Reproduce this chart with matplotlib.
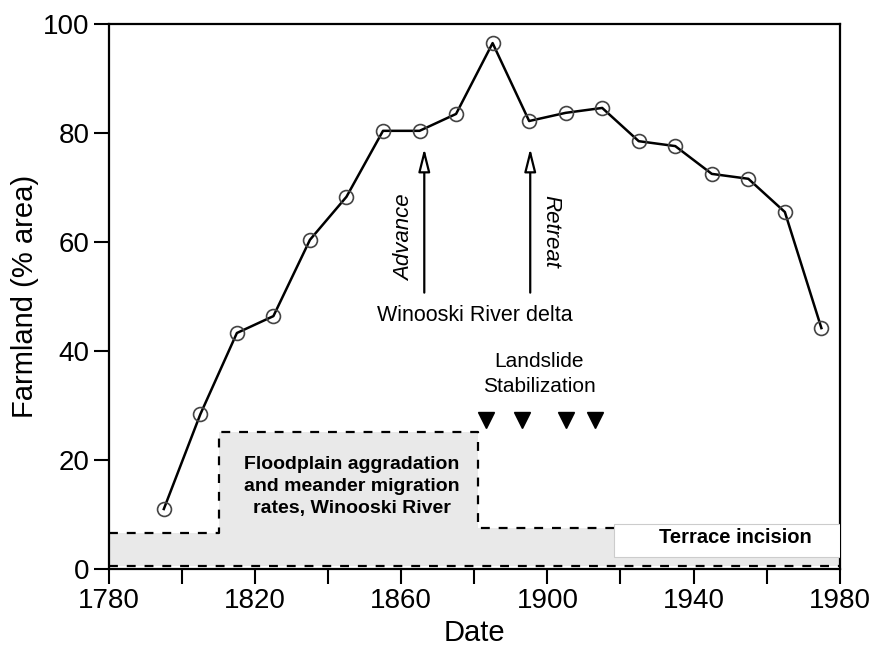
import matplotlib
matplotlib.use("Agg")
import matplotlib.pyplot as plt
import numpy as np

plt.rcParams['font.family'] = ['Liberation Sans', 'DejaVu Sans']

years = [1795, 1805, 1815, 1825, 1835, 1845, 1855, 1865, 1875, 1885,
         1895, 1905, 1915, 1925, 1935, 1945, 1955, 1965, 1975]
farmland = [11.0, 28.4, 43.3, 46.4, 60.4, 68.3, 80.4, 80.4, 83.5, 96.5,
            82.2, 83.7, 84.6, 78.5, 77.6, 72.5, 71.6, 65.5, 44.2]

step_x = [1780, 1810, 1810, 1881, 1881, 1980]
step_y = [6.6, 6.6, 25.1, 25.1, 7.5, 7.5]
base_y = 0.5

landslide_years = [1883.3, 1893.0, 1905.2, 1913.0]
landslide_y = 27.3

advance_year = 1866.3
retreat_year = 1895.3

fig = plt.figure(figsize=(8.82, 6.49), dpi=100)
ax = fig.add_axes([0.1236, 0.1233, 0.8284, 0.8397])

# shaded rate region
ax.fill_between(step_x, base_y, step_y, color='#e9e9e9', lw=0, zorder=1)
ax.plot(step_x, step_y, color='black', lw=1.6, ls=(0, (4, 4)), zorder=2)
ax.plot([1780, 1980], [base_y, base_y], color='black', lw=1.6, ls=(0, (4, 4)), zorder=2)

# Terrace incision box
ax.add_patch(plt.Rectangle((1918.3, 2.2), 1980 - 1918.3, 8.3 - 2.2,
                           facecolor='white', edgecolor='#cccccc', lw=0.8, zorder=3))
ax.text(1951.5, 5.8, 'Terrace incision', ha='center', va='center',
        fontsize=14.5, fontweight='bold', zorder=4)

ax.text(1846.5, 15.1, 'Floodplain aggradation\nand meander migration\nrates, Winooski River',
        ha='center', va='center', fontsize=14, fontweight='bold',
        linespacing=1.4, zorder=4)

# farmland curve
ax.plot(years, farmland, color='black', lw=1.8, zorder=5)
ax.plot(years, farmland, ls='none', marker='o', markersize=10,
        markerfacecolor='none', markeredgecolor='#444444', markeredgewidth=1.2, zorder=6)

# landslide markers
ax.plot(landslide_years, [landslide_y] * len(landslide_years), ls='none',
        marker='v', markersize=11, color='black', zorder=5)
ax.text(1897.8, 38.0, 'Landslide', ha='center', va='center', fontsize=15)
ax.text(1897.8, 33.5, 'Stabilization', ha='center', va='center', fontsize=15)

# delta arrows
for xa in (advance_year, retreat_year):
    ax.annotate('', xy=(xa, 77.7), xytext=(xa, 50.2),
                arrowprops=dict(arrowstyle='-|>,head_length=1.4,head_width=0.35',
                                facecolor='white', edgecolor='black', lw=1.6))
ax.text(1861.0, 60.8, 'Advance', rotation=90, ha='center', va='center',
        fontsize=16, style='italic')
ax.text(1900.8, 62.0, 'Retreat', rotation=270, ha='center', va='center',
        fontsize=16, style='italic')
ax.text(1880.2, 46.6, 'Winooski River delta', ha='center', va='center', fontsize=15.5)

ax.set_xlim(1780, 1980)
ax.set_ylim(0, 100)
ax.set_xticks(np.arange(1780, 1981, 40))
ax.set_xticks(np.arange(1780, 1981, 20), minor=True)
ax.set_yticks(np.arange(0, 101, 20))
ax.tick_params(axis='both', which='major', direction='out', length=11, width=1.5,
               labelsize=20, pad=3)
ax.tick_params(axis='x', which='minor', direction='out', length=11, width=1.5)
for s in ax.spines.values():
    s.set_linewidth(1.6)
ax.set_xlabel('Date', fontsize=21, labelpad=3)
ax.set_ylabel('Farmland (% area)', fontsize=21, labelpad=3)

fig.savefig('out.png', dpi=100)
